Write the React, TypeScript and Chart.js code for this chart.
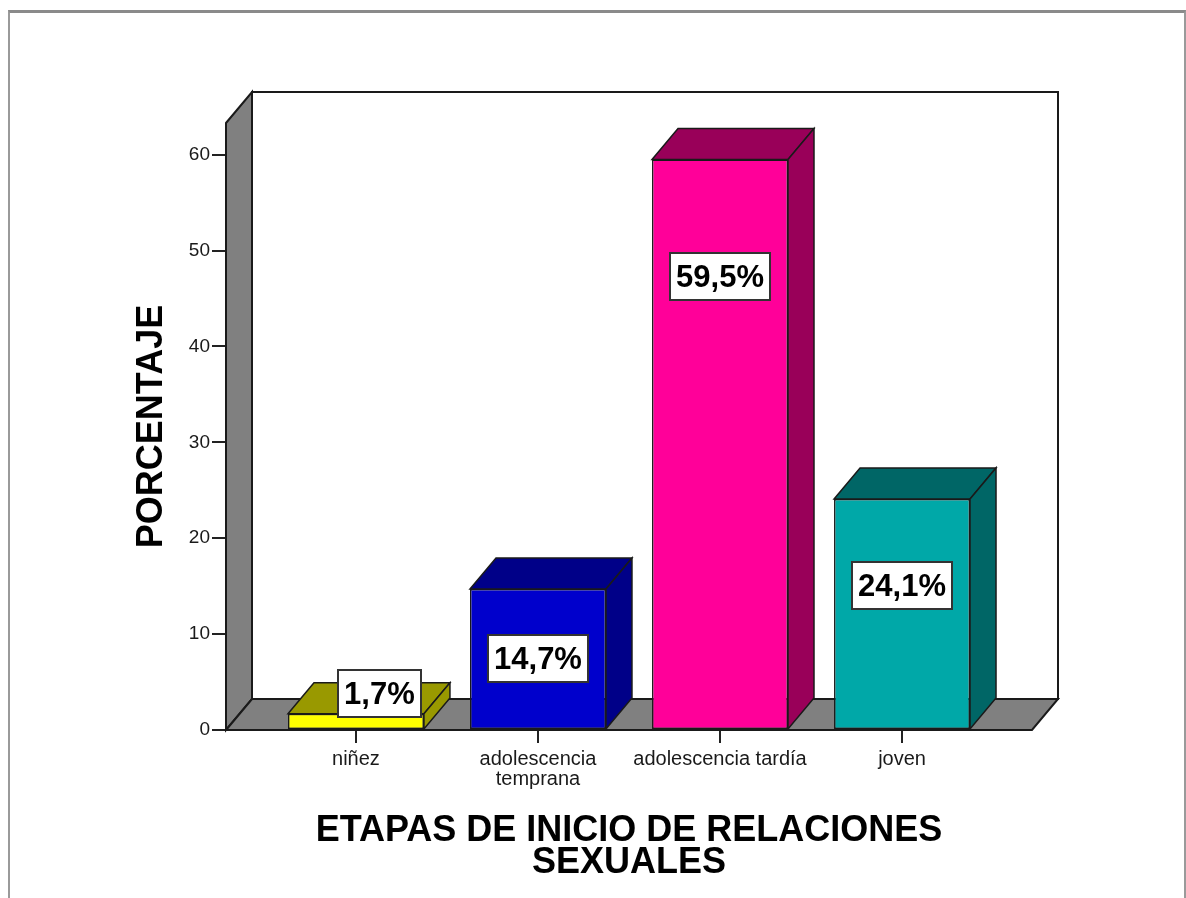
import React, { useEffect, useRef } from 'react';
import { Chart, registerables } from 'chart.js';

Chart.register(...registerables);

// ---- data ----
const categories: (string | string[])[] = ['niñez', ['adolescencia', 'temprana'], 'adolescencia tardía', 'joven'];
const percentages = [1.7, 14.7, 59.5, 24.1];
const valueLabels = ['1,7%', '14,7%', '59,5%', '24,1%'];
const yTicks = [0, 10, 20, 30, 40, 50, 60];
const yTitle = 'PORCENTAJE';
const xTitle = ['ETAPAS DE INICIO DE RELACIONES', 'SEXUALES'];

// ---- styles ----
const frontColors = ['#ffff00', '#0000cc', '#ff0099', '#00a8a8'];
const shadeColors = ['#999900', '#000088', '#990059', '#006666'];
const WALL = '#808080';
const EDGE = '#1a1a1a';
const DX = 26;
const DY = -31;
const FONT = '"Liberation Sans", Arial, Helvetica, sans-serif';

function poly(ctx: CanvasRenderingContext2D, pts: number[][], fill: string) {
  ctx.beginPath();
  ctx.moveTo(pts[0][0], pts[0][1]);
  for (let i = 1; i < pts.length; i++) ctx.lineTo(pts[i][0], pts[i][1]);
  ctx.closePath();
  ctx.fillStyle = fill;
  ctx.fill();
  ctx.stroke();
}

const box3d = {
  id: 'box3d',
  beforeDatasetsDraw(chart: any) {
    const { ctx, chartArea } = chart;
    const { left, right, top, bottom } = chartArea;
    ctx.save();
    ctx.lineJoin = 'miter';
    ctx.lineWidth = 2;
    ctx.strokeStyle = EDGE;
    // back wall
    poly(ctx, [[left + DX, top + DY], [right + DX, top + DY], [right + DX, bottom + DY], [left + DX, bottom + DY]], '#ffffff');
    // left wall
    poly(ctx, [[left, top], [left + DX, top + DY], [left + DX, bottom + DY], [left, bottom]], WALL);
    // floor
    poly(ctx, [[left, bottom], [left + DX, bottom + DY], [right + DX, bottom + DY], [right, bottom]], WALL);
    ctx.restore();
  },
  afterDatasetsDraw(chart: any) {
    const { ctx } = chart;
    const meta = chart.getDatasetMeta(0);
    ctx.save();
    ctx.lineJoin = 'miter';
    ctx.lineWidth = 1.5;
    ctx.strokeStyle = EDGE;
    meta.data.forEach((bar: any, i: number) => {
      const { x, y, base, width } = bar.getProps(['x', 'y', 'base', 'width'], true);
      const l = x - width / 2;
      const r = x + width / 2;
      poly(ctx, [[l, y], [l + DX, y + DY], [r + DX, y + DY], [r, y]], shadeColors[i]);
      poly(ctx, [[r, y], [r + DX, y + DY], [r + DX, base + DY], [r, base]], shadeColors[i]);
    });
    // value labels
    ctx.font = `bold 31px ${FONT}`;
    ctx.textAlign = 'center';
    ctx.textBaseline = 'middle';
    meta.data.forEach((bar: any, i: number) => {
      const { x, y, base } = bar.getProps(['x', 'y', 'base'], true);
      const text = valueLabels[i];
      const tw = ctx.measureText(text).width;
      const bw = tw + 12;
      const bh = 47;
      const h = Math.max(base - y, 1);
      let cy = y + (33.6 * Math.log(h) - 96.3);
      let cx = x;
      const lowest = base - 12 - bh / 2;
      if (cy > lowest) {
        cy = lowest;
        cx = x + DX * 0.9;
      }
      ctx.fillStyle = '#ffffff';
      ctx.strokeStyle = '#333333';
      ctx.lineWidth = 2;
      ctx.beginPath();
      ctx.rect(Math.round(cx - bw / 2), Math.round(cy - bh / 2), Math.round(bw), bh);
      ctx.fill();
      ctx.stroke();
      ctx.fillStyle = '#000000';
      ctx.fillText(text, cx, cy + 2);
    });
    ctx.restore();
  },
};

export default function App() {
  const canvasRef = useRef<HTMLCanvasElement | null>(null);

  useEffect(() => {
    if (!canvasRef.current) return;
    Chart.defaults.font.family = FONT;
    const chart = new Chart(canvasRef.current, {
      type: 'bar',
      data: {
        datasets: [
          {
            data: percentages.map((v, i) => ({ x: i, y: v })),
            backgroundColor: frontColors,
            borderColor: EDGE,
            borderWidth: 1.5,
            borderSkipped: false,
            barPercentage: 0.747,
            categoryPercentage: 1,
          },
        ],
      },
      options: {
        responsive: false,
        animation: false,
        events: [],
        layout: { padding: { top: 110, right: 152, left: 0, bottom: 0 } },
        plugins: {
          legend: { display: false },
          tooltip: { enabled: false },
          title: { display: false },
        },
        scales: {
          x: {
            type: 'linear',
            min: -0.714,
            max: 3.714,
            offset: false,
            afterBuildTicks: (scale: any) => {
              scale.ticks = categories.map((_, i) => ({ value: i }));
            },
            afterFit: (scale: any) => {
              scale.height = 168;
            },
            border: { display: false },
            grid: { display: true, offset: false, drawOnChartArea: false, drawTicks: true, tickLength: 13, color: '#222', lineWidth: 2 },
            ticks: {
              autoSkip: false,
              maxRotation: 0,
              padding: 6,
              color: '#1a1a1a',
              font: { size: 20, lineHeight: 1.0 },
              callback: (value: any) => {
                const c = categories[value as number];
                return c === undefined ? '' : c;
              },
            },
            title: {
              display: true,
              text: xTitle,
              color: '#000',
              font: { size: 36, weight: 'bold', lineHeight: 32 / 36 },
              padding: { top: 0, bottom: 19 },
            },
          },
          y: {
            type: 'linear',
            min: 0,
            max: 63.3,
            afterBuildTicks: (scale: any) => {
              scale.ticks = yTicks.map((v) => ({ value: v }));
            },
            afterFit: (scale: any) => {
              scale.width = 216;
            },
            border: { display: false },
            grid: { display: true, drawOnChartArea: false, drawTicks: true, tickLength: 14, color: '#222', lineWidth: 2 },
            ticks: {
              padding: 2,
              color: '#1a1a1a',
              font: { size: 19 },
              includeBounds: false,
            },
            title: {
              display: true,
              text: yTitle,
              color: '#000',
              font: { size: 36, weight: 'bold', lineHeight: 1 },
              padding: { top: 124, bottom: 0 },
            },
          },
        },
      },
      plugins: [box3d],
    } as any);
    return () => chart.destroy();
  }, []);

  return (
    <div
      style={{
        position: 'fixed',
        left: 8,
        top: 10,
        width: 1178,
        height: 888,
        boxSizing: 'border-box',
        borderTop: '3px solid #8a8a8a',
        borderLeft: '2px solid #9a9a9a',
        borderRight: '2px solid #9a9a9a',
        background: '#fff',
      }}
    >
      <canvas ref={canvasRef} width={1174} height={885} style={{ display: 'block' }} />
    </div>
  );
}
